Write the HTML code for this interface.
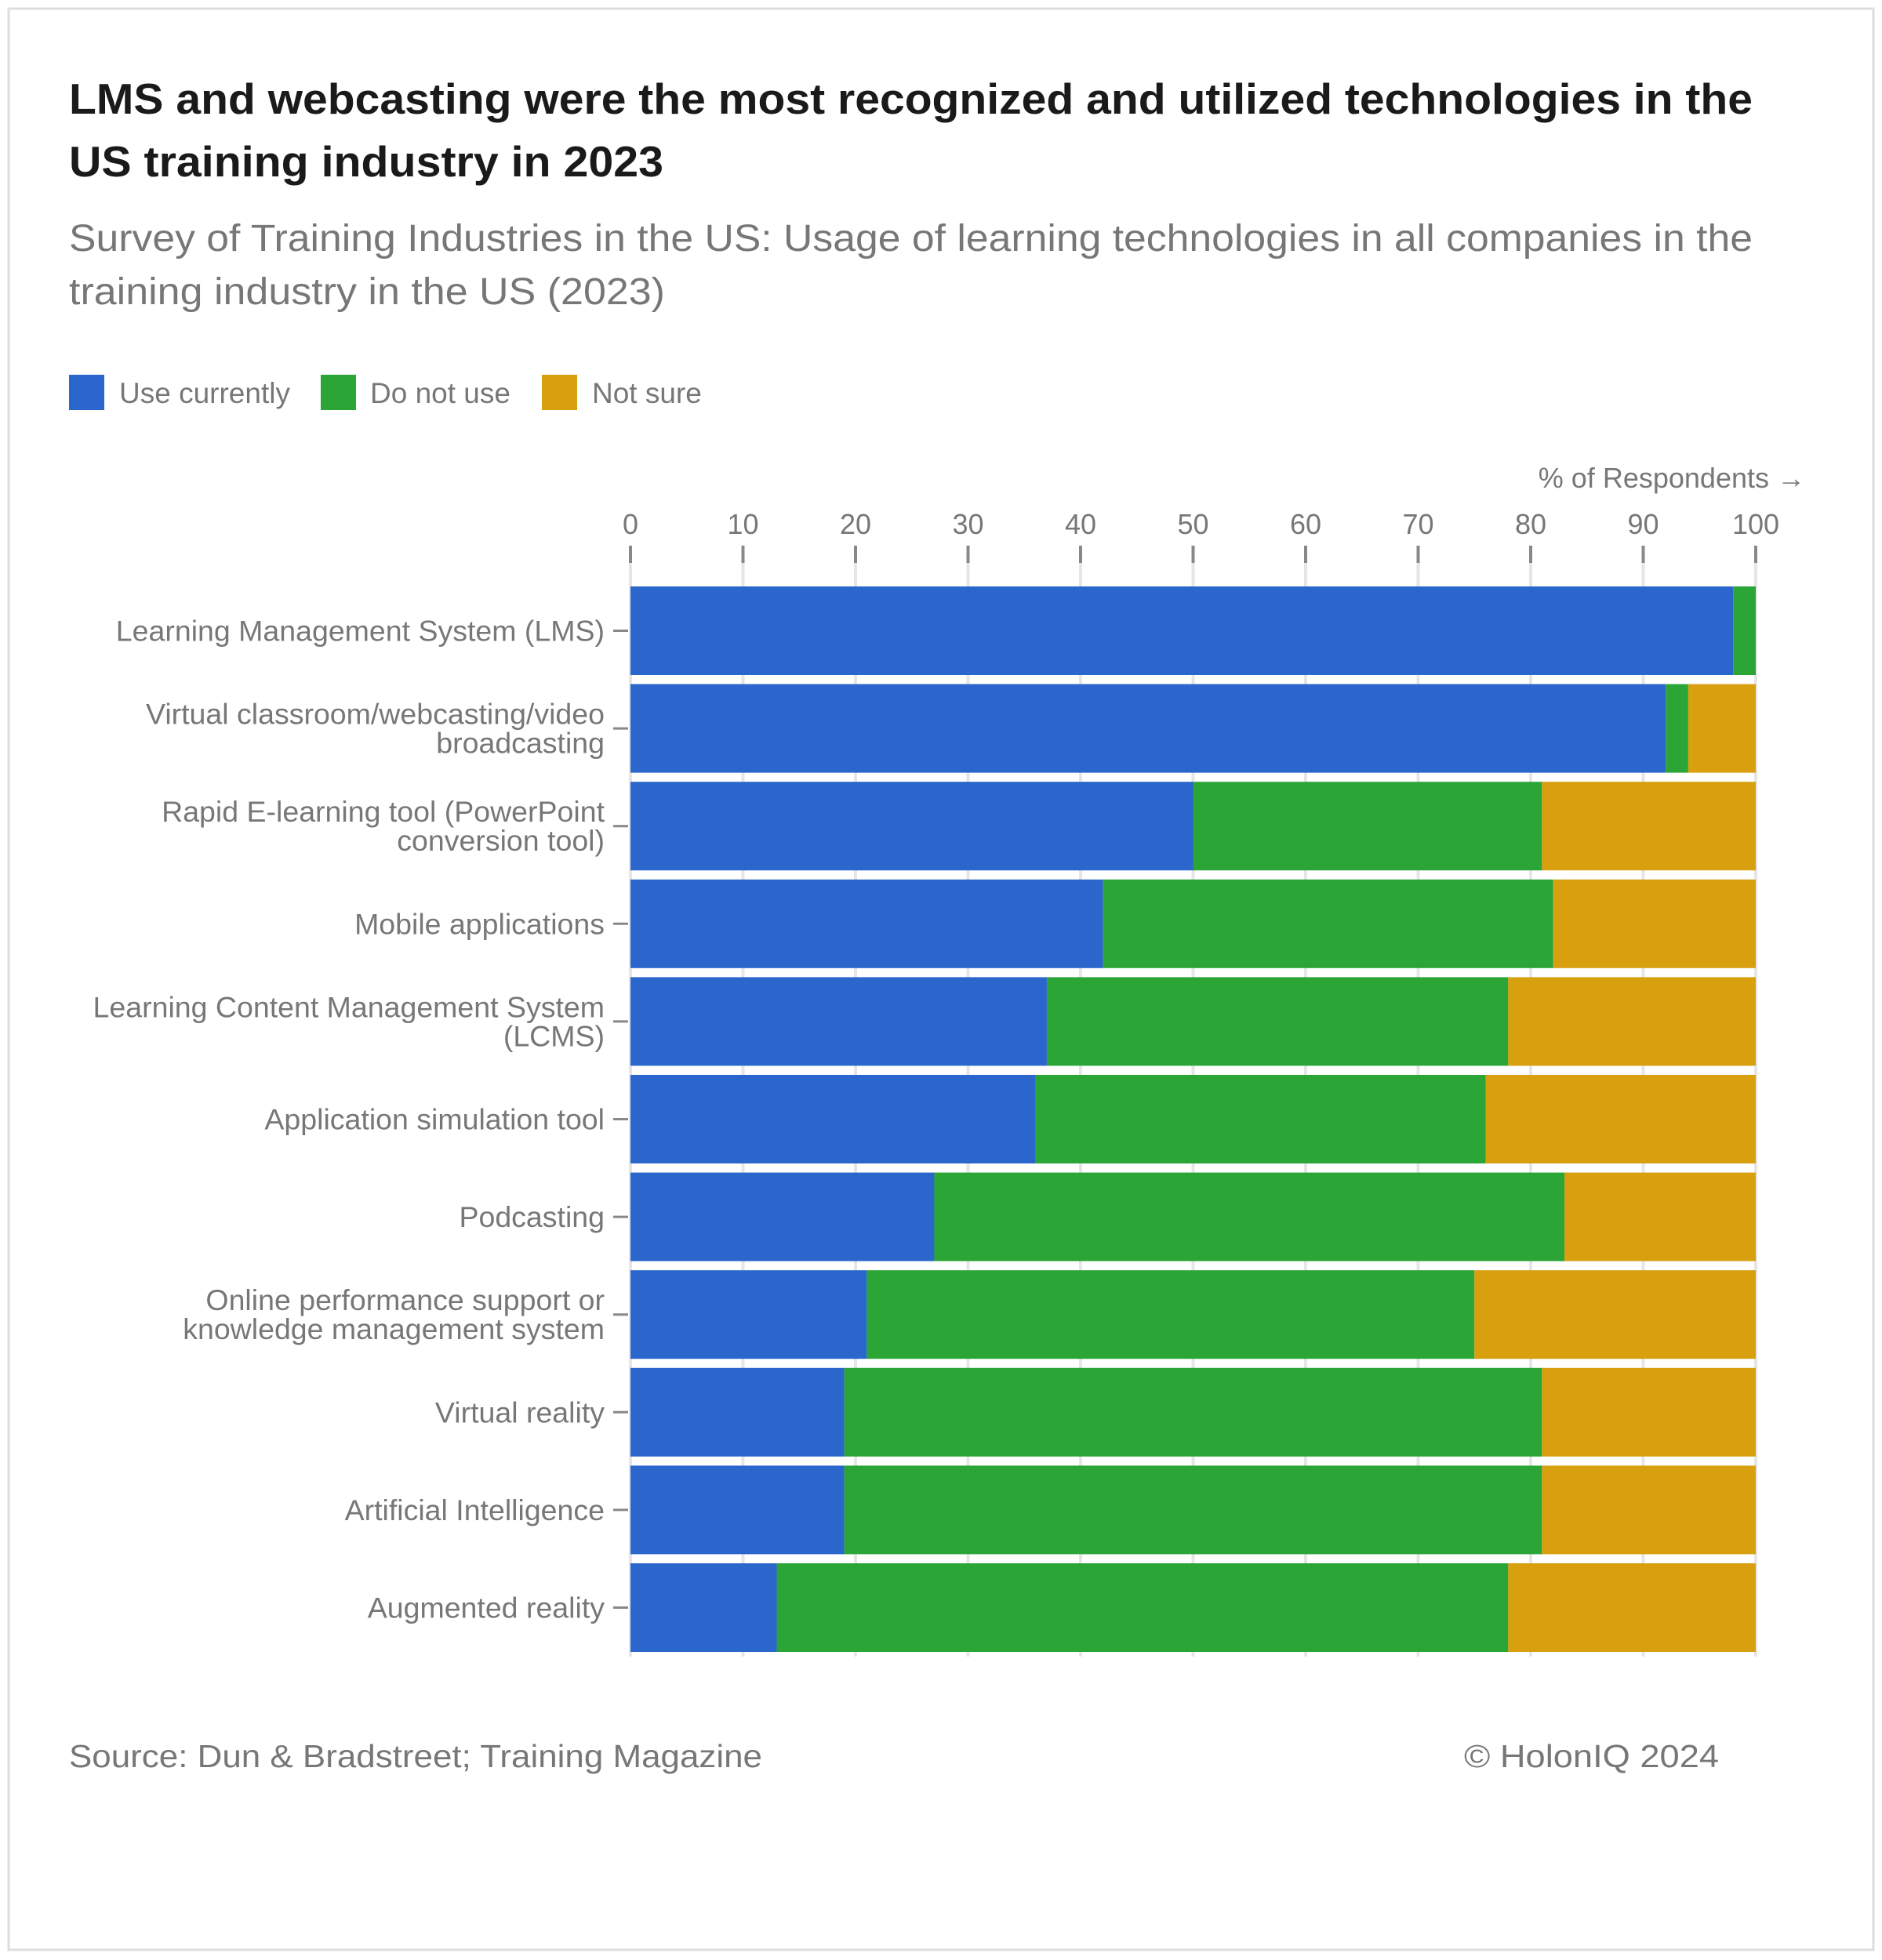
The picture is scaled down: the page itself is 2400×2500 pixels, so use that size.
<!DOCTYPE html>
<html><head><meta charset="utf-8"><style>
html,body{margin:0;padding:0;background:#fff;}
svg{display:block;font-family:"Liberation Sans",sans-serif;}
</style></head><body>
<svg id="chart" width="2400" height="2500" viewBox="0 0 2400 2500">
<rect x="11" y="11" width="2378" height="2476" fill="#fff" stroke="#ddd" stroke-width="3"/>
<text x="88" y="145" font-size="55" font-weight="bold" fill="#1a1a1a" textLength="2147" lengthAdjust="spacingAndGlyphs">LMS and webcasting were the most recognized and utilized technologies in the</text>
<text x="88" y="225" font-size="55" font-weight="bold" fill="#1a1a1a" textLength="758" lengthAdjust="spacingAndGlyphs">US training industry in 2023</text>
<text x="88" y="320" font-size="48" fill="#777" textLength="2147" lengthAdjust="spacingAndGlyphs">Survey of Training Industries in the US: Usage of learning technologies in all companies in the</text>
<text x="88" y="388" font-size="48" fill="#777" textLength="760" lengthAdjust="spacingAndGlyphs">training industry in the US (2023)</text>
<g>
<rect x="88" y="478" width="45" height="45" fill="#2a66cc"/>
<text x="152" y="514" font-size="37" fill="#777">Use currently</text>
<rect x="409" y="478" width="45" height="45" fill="#2aa536"/>
<text x="472" y="514" font-size="37" fill="#777">Do not use</text>
<rect x="691" y="478" width="45" height="45" fill="#d89f0e"/>
<text x="755" y="514" font-size="37" fill="#777">Not sure</text>
</g>
<text x="2302" y="622" font-size="36" fill="#777" text-anchor="end">% of Respondents →</text>
<g id="grid"></g><g id="bars"></g><g id="axes"></g>
<text x="88" y="2254" font-size="41" fill="#777" textLength="884" lengthAdjust="spacingAndGlyphs">Source: Dun &amp; Bradstreet; Training Magazine</text>
<text x="1867" y="2254" font-size="41" fill="#777" textLength="325" lengthAdjust="spacingAndGlyphs">© HolonIQ 2024</text>
</svg>
<script>
const categories=[["Learning Management System (LMS)"],["Virtual classroom/webcasting/video","broadcasting"],["Rapid E-learning tool (PowerPoint","conversion tool)"],["Mobile applications"],["Learning Content Management System","(LCMS)"],["Application simulation tool"],["Podcasting"],["Online performance support or","knowledge management system"],["Virtual reality"],["Artificial Intelligence"],["Augmented reality"]];
const useCurrently=[98,92,50,42,37,36,27,21,19,19,13];
const doNotUse=[2,2,31,40,41,40,56,54,62,62,65];
const notSure=[0,6,19,18,22,24,17,25,19,19,22];
const xTicks=[0,10,20,30,40,50,60,70,80,90,100];
const NS="http://www.w3.org/2000/svg";
const X0=804,X1=2239,TOP=748,PITCH=124.6,BH=113;
const x=v=>X0+(X1-X0)*v/100;
const y=i=>TOP+i*PITCH;
function mk(t,a,p){const e=document.createElementNS(NS,t);for(const k in a)e.setAttribute(k,a[k]);p.appendChild(e);return e;}
const grid=document.getElementById('grid'),bars=document.getElementById('bars'),axes=document.getElementById('axes');
const bottom=y(categories.length-1)+BH+6;
xTicks.forEach(t=>{
 const g=mk('line',{x1:x(t),x2:x(t),y1:718,y2:bottom,stroke:'#e6e6e6','stroke-width':4},grid);
 
 
 const tk=mk('line',{x1:x(t),x2:x(t),y1:696,y2:718,stroke:'#888','stroke-width':4},axes);
 
 
 const lb=mk('text',{x:x(t),y:681,'font-size':36,fill:'#777','text-anchor':'middle'},axes);
 lb.textContent=t;
 
 
});
const series=[[useCurrently,'#2a66cc','use-currently'],[doNotUse,'#2aa536','do-not-use'],[notSure,'#d89f0e','not-sure']];
categories.forEach((c,i)=>{
 let acc=0;
 series.forEach(([arr,col,nm])=>{
  const v=arr[i];
  if(v>0){
   const r=mk('rect',{x:x(acc),y:y(i),width:x(acc+v)-x(acc),height:BH,fill:col},bars);
   
   
  }
  acc+=v;
 });
 const cy=y(i)+BH/2;
 const tk=mk('line',{x1:782,x2:801,y1:cy,y2:cy,stroke:'#888','stroke-width':3},axes);
 
 
 const n=c.length;
 c.forEach((line,j)=>{
  const ty=cy+13+(j-(n-1)/2)*37;
  const t=mk('text',{x:771,y:ty,'font-size':37.5,fill:'#777','text-anchor':'end'},axes);
  t.textContent=line;
  
  
 });
});
</script>
</body></html>
